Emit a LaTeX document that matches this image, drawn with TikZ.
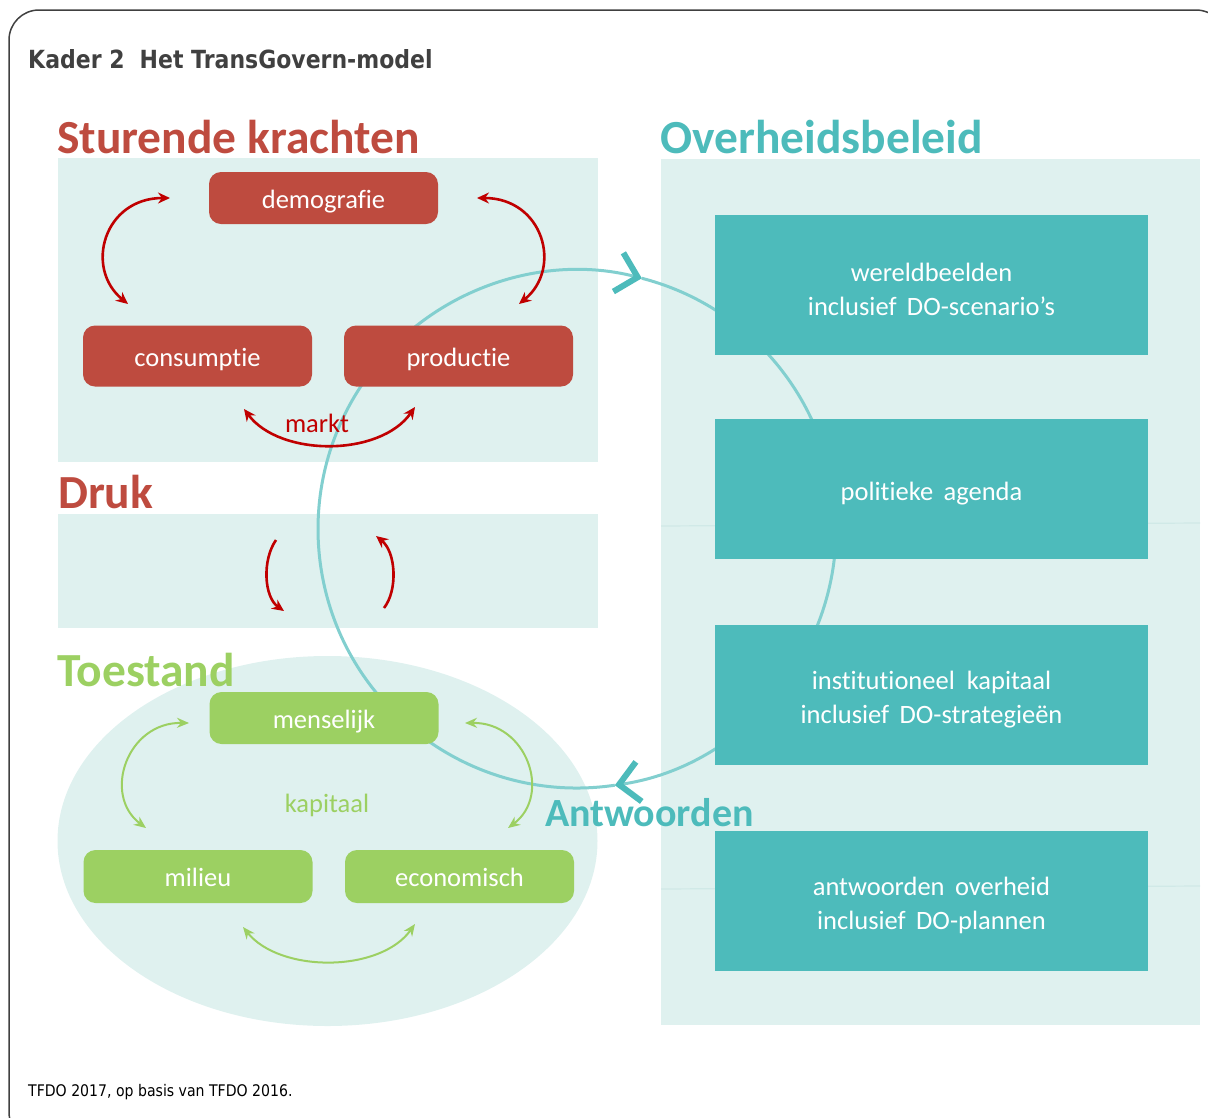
\documentclass[tikz,border=0pt]{standalone}
\usepackage{fontspec}
\setmainfont{Carlito}[Ligatures={NoCommon}]
\newfontfamily\kaderfont[FakeStretch=0.88]{DejaVu Sans}
\usetikzlibrary{arrows.meta,positioning}

\definecolor{krood}{RGB}{190,75,63}
\definecolor{pijlrood}{RGB}{192,0,0}
\definecolor{kteal}{RGB}{77,187,187}
\definecolor{kgroen}{RGB}{156,208,98}
\definecolor{vlak}{RGB}{223,241,239}
\definecolor{vlaklijn}{RGB}{208,233,231}
\definecolor{kadergrijs}{RGB}{64,64,64}

\tikzset{
  titel/.style={anchor=base west, inner sep=0pt, font=\bfseries\fontsize{47.5}{50}\selectfont},
  knop/.style={rounded corners=12pt, text=white, minimum width=229pt, inner sep=0pt,
    text height=20pt, text depth=0pt, font=\fontsize{26.5}{30}\selectfont},
  rodeknop/.style={knop, fill=krood},
  groeneknop/.style={knop, fill=kgroen, minimum height=53pt},
  tealblok/.style={fill=kteal, minimum width=433pt, minimum height=140pt, inner sep=0pt},
  bloktekst/.style={text=white, inner sep=0pt, align=center, font=\fontsize{26.5}{34}\selectfont},
  roodpijl/.style={draw=pijlrood, line width=2.6pt,
    {Stealth[length=12pt,width=11pt]}-{Stealth[length=12pt,width=11pt]}},
  roodenkel/.style={draw=pijlrood, line width=2.6pt, -{Stealth[length=12pt,width=11pt]}},
  groenpijl/.style={draw=kgroen, line width=2pt,
    {Stealth[length=12pt,width=10pt]}-{Stealth[length=12pt,width=10pt]}},
  kringlijn/.style={draw=kteal!70, line width=3pt,
    -{Straight Barb[length=20pt,width=40pt,line width=6pt,color=kteal]}},
}

\begin{document}
\begin{tikzpicture}[x=1pt,y=-1pt]
    \useasboundingbox (0,0) rectangle (1208,1117);
    \clip (0,0) rectangle (1208,1117);
    % kader
    \draw[kadergrijs, line width=1.5pt, rounded corners=30pt] (9,10) rectangle (1226,1142);
    \node[anchor=base west, inner sep=0pt, text=kadergrijs, font=\kaderfont\bfseries\fontsize{25}{30}\selectfont]
        (kop) at (28,68) {Kader 2\hspace{0.3em} Het TransGovern-model};
    \node[anchor=base west, inner sep=0pt, font=\kaderfont\fontsize{16}{18}\selectfont]
        (bron) at (28,1096) {TFDO 2017, op basis van TFDO 2016.};

    % vlakken
    \fill[vlak] (58,158) rectangle (598,462);
    \fill[vlak] (58,514) rectangle (598,628);
    \fill[vlak] (327.5,841) ellipse [x radius=270, y radius=185];
    \fill[vlak] (661,159) rectangle (1200,1025);
    \draw[vlaklijn, line width=1.2pt] (661,526) -- (1200,523);
    \draw[vlaklijn, line width=1.2pt] (661,889) -- (1200,886);

    % kringloop
    \coordinate (kring) at (577,529);
    \draw[kringlijn] ([shift={(-75.5:259)}]kring) arc[start angle=-75.5, end angle=81.6, radius=259];
    \draw[kringlijn] ([shift={(81.6:259)}]kring) arc[start angle=81.6, end angle=284.5, radius=259];

    % titels
    \node[titel, text=krood] (sturend) at (57,153) {Sturende krachten};
    \node[titel, text=kteal] (beleid) at (660,153) {Overheidsbeleid};
    \node[titel, text=krood] (druk) at (58,508) {Druk};
    \node[titel, text=kgroen] (toestand) at (57,686) {Toestand};
    \node[titel, text=kteal, font=\bfseries\fontsize{40}{44}\selectfont] (antw) at (545,826) {Antwoorden};

    % sturende krachten
    \node[rodeknop, minimum height=52pt] (demo) at (323.5,198) {demografie};
    \node[rodeknop, minimum height=61pt] (cons) at (197.5,356) {consumptie};
    \node[rodeknop, minimum height=61pt] (prod) at (458.5,356) {productie};
    \coordinate (dl) at (170,198);
    \coordinate (cl) at (128,304);
    \coordinate (dr) at (477,198);
    \coordinate (pr) at (519,304);
    \coordinate (ml) at (244,409);
    \coordinate (mr) at (415,407);
    \draw[roodpijl] (dl) .. controls +(-66,0) and +(-44,-36) .. (cl);
    \draw[roodpijl] (dr) .. controls +(66,0) and +(44,-36) .. (pr);
    \draw[roodpijl] (ml) .. controls +(36,48) and +(-35,50) .. (mr);
    \node[text=pijlrood, font=\fontsize{26.5}{30}\selectfont] (markt) at (317,423) {markt};

    % druk
    \coordinate (d1) at (276,540);
    \coordinate (d2) at (284,611);
    \coordinate (d3) at (384,608);
    \coordinate (d4) at (376,536);
    \draw[roodenkel] (d1) .. controls +(-14,20) and +(-20,-14) .. (d2);
    \draw[roodenkel] (d3) .. controls +(14,-18) and +(20,16) .. (d4);

    % toestand
    \node[groeneknop, minimum height=52pt] (mens) at (324,718) {menselijk};
    \node[groeneknop] (milieu) at (198,876.5) {milieu};
    \node[groeneknop] (eco) at (459.5,876.5) {economisch};
    \coordinate (gl1) at (189,723);
    \coordinate (gl2) at (146,828);
    \coordinate (gr1) at (465,723);
    \coordinate (gr2) at (508,828);
    \coordinate (gb1) at (243,927);
    \coordinate (gb2) at (415,924);
    \draw[groenpijl] (gl1) .. controls +(-62,-1) and +(-44,-33) .. (gl2);
    \draw[groenpijl] (gr1) .. controls +(62,-1) and +(44,-33) .. (gr2);
    \draw[groenpijl] (gb1) .. controls +(37,46) and +(-35,49) .. (gb2);
    \node[text=kgroen, font=\fontsize{26.5}{30}\selectfont] (kapitaal) at (327,805) {kapitaal};

    % overheidsbeleid
    \foreach \naam/\y/\tekst in {wereld/285/{wereldbeelden\\inclusief\ \,DO-scenario’s},
        agenda/489/{politieke\ \,agenda},
        instit/695/{institutioneel\ \ kapitaal\\inclusief\ \,DO-strategieën},
        plannen/900.5/{antwoorden\ \,overheid\\inclusief\ \,DO-plannen}}
    {
        \node[tealblok] (\naam) at (931.5,\y) {};
        \node[bloktekst] (\naam-tekst) at ([yshift=-4.5pt]\naam.center) {\tekst};
    }
\end{tikzpicture}
\end{document}
